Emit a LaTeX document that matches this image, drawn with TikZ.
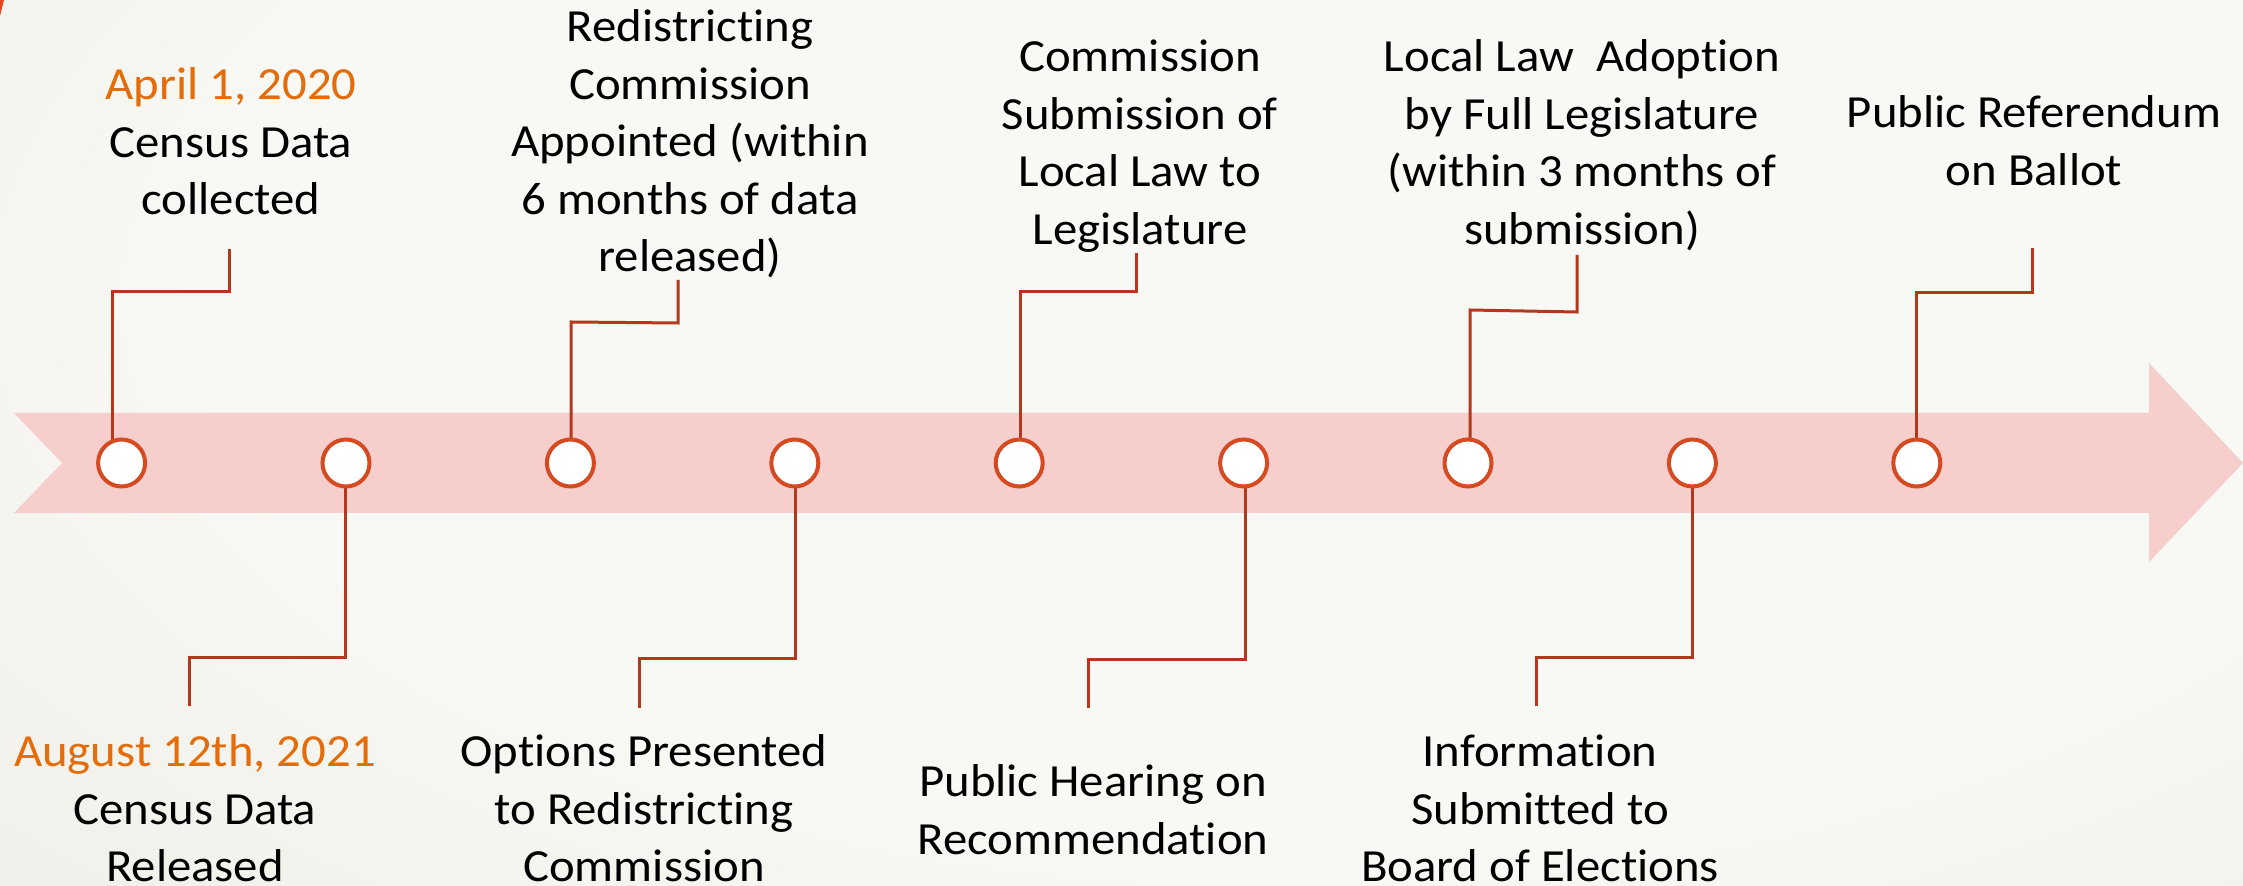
\documentclass[tikz,border=0pt]{standalone}
\usepackage{fontspec}
\setmainfont{Carlito}[FakeStretch=1.06, Ligatures=NoCommon]
\usetikzlibrary{calc}
\definecolor{bandpink}{RGB}{246,206,204}
\definecolor{linered}{RGB}{180,56,28}
\definecolor{ringred}{RGB}{214,74,34}
\definecolor{dateorange}{RGB}{228,108,10}
\definecolor{bgin}{RGB}{248,248,244}
\definecolor{bgout}{RGB}{222,219,207}
\definecolor{cornerred}{RGB}{230,70,30}
\pgfdeclarelayer{bg}
\pgfdeclarelayer{conn}
\pgfsetlayers{bg,conn,main}
\pgfdeclareradialshading{bgshade}{\pgfpoint{0bp}{0bp}}{color(0bp)=(bgin); color(16bp)=(bgin); color(50bp)=(bgout); color(72bp)=(bgout)}
\newcommand\lbltab[1]{\begin{tabular}[t]{@{}c@{}}#1\end{tabular}}
\tikzset{
  lbl/.style={font=\fontsize{23}{28.75}\selectfont, anchor=base, inner sep=0pt},
  dot/.style={circle, draw=ringred, fill=white, line width=2pt, minimum size=23.5pt, inner sep=0pt},
  conn/.style={draw=linered, line width=1.5pt, line join=miter}
}
\begin{document}
\begin{tikzpicture}[x=0.5pt,y=-0.5pt]
\useasboundingbox (0,0) rectangle (2243,886);
\begin{pgfonlayer}{bg}
  \begin{scope}
    \clip (0,0) rectangle (2243,886);
    \shade[shading=bgshade] (-400,-550) rectangle (3000,1150);
  \end{scope}
  \fill[bandpink] (14,413) -- (2149,413) -- (2149,363) -- (2243,463) -- (2149,562) -- (2149,513) -- (14,513) -- (62,463) -- cycle;
  \fill[cornerred] (0,0) -- (4,0) -- (0,16) -- cycle;
\end{pgfonlayer}

% timeline dots
\foreach \i in {1,...,9}
  \node[dot] (c\i) at ({121.6+224.4*(\i-1)},463) {};

% connectors
\begin{pgfonlayer}{conn}
  \coordinate (a1) at (112,292);  \coordinate (b1) at (229,292);  \coordinate (e1) at (229,249);
  \coordinate (a2) at (345,658);  \coordinate (b2) at (189,658);  \coordinate (e2) at (189,706);
  \coordinate (a3) at (571,322);  \coordinate (b3) at (678,323);  \coordinate (e3) at (678,280);
  \coordinate (a4) at (795,659);  \coordinate (b4) at (639,659);  \coordinate (e4) at (639,708);
  \coordinate (a5) at (1020,292); \coordinate (b5) at (1136,292); \coordinate (e5) at (1136,253);
  \coordinate (a6) at (1245,660); \coordinate (b6) at (1088,660); \coordinate (e6) at (1088,708);
  \coordinate (a7) at (1470,310); \coordinate (b7) at (1577,312); \coordinate (e7) at (1577,255);
  \coordinate (a8) at (1692,658); \coordinate (b8) at (1536,658); \coordinate (e8) at (1536,706);
  \coordinate (a9) at (1916,293); \coordinate (b9) at (2032,293); \coordinate (e9) at (2032,248);
  \foreach \i in {1,...,9}
    \draw[conn] (c\i.center -| a\i) -- (a\i) -- (b\i) -- (e\i);
\end{pgfonlayer}

% labels
\node[lbl] (t1) at (231,100) {\lbltab{\textcolor{dateorange}{April 1, 2020}\\Census Data\\collected}};
\node[lbl] (t2) at (195,767) {\lbltab{\textcolor{dateorange}{August 12th, 2021}\\Census Data\\Released}};
\node[lbl] (t3) at (690,42) {\lbltab{Redistricting\\Commission\\Appointed (within\\6 months of data\\released)}};
\node[lbl] (t4) at (644,767) {\lbltab{Options Presented\\to Redistricting\\Commission}};
\node[lbl] (t5) at (1140,72) {\lbltab{Commission\\Submission of\\Local Law to\\Legislature}};
\node[lbl] (t6) at (1093,797) {\lbltab{Public Hearing on\\Recommendation}};
\node[lbl] (t7) at (1582,72) {\lbltab{Local Law\ \ Adoption\\by Full Legislature\\(within 3 months of\\submission)}};
\node[lbl] (t8) at (1540,767) {\lbltab{Information\\Submitted to\\Board of Elections}};
\node[lbl] (t9) at (2034,128) {\lbltab{Public Referendum\\on Ballot}};
\end{tikzpicture}
\end{document}
